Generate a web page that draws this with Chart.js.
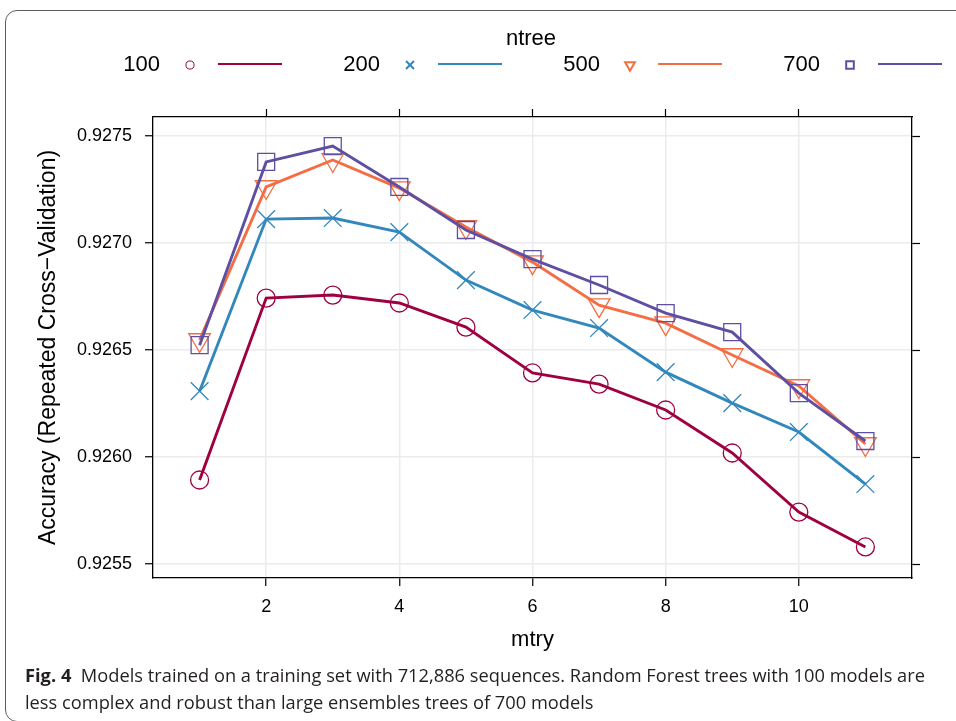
<!DOCTYPE html>
<html>
<head>
<meta charset="utf-8">
<script src="https://cdn.jsdelivr.net/npm/chart.js@4.4.1/dist/chart.umd.min.js"></script>
<style>
  body { margin: 0; background: #fff; }
  #wrap { position: relative; width: 956px; height: 721px; overflow: hidden; }
  #frame { position: absolute; left: 5px; top: 10px; width: 1000px; height: 712px; border: 1.5px solid #5e5e5e; border-radius: 12px; box-sizing: border-box; }
  canvas { position: absolute; left: 0; top: 0; }
  #caption { position: absolute; left: 25px; top: 662px; font-family: "Open Sans"; font-size: 18px; line-height: 27px; color: #231f20; transform-origin: 0 0; white-space: nowrap; }
  #caption span { display: inline-block; }
</style>
</head>
<body>
<div id="wrap">
  <div id="frame"></div>
  <canvas id="chart" width="956" height="721"></canvas>
  <div id="caption"><span id="cap1"><b>Fig. 4</b>&nbsp; Models trained on a training set with 712,886 sequences. Random Forest trees with 100 models are</span><br><span>less complex and robust than large ensembles trees of 700 models</span></div>
</div>
<script>
// data
const mtry = [1, 2, 3, 4, 5, 6, 7, 8, 9, 10, 11];
const ntree = ['100', '200', '500', '700'];
const acc100 = [0.925893, 0.926743, 0.926757, 0.926720, 0.926607, 0.926393, 0.926341, 0.926220, 0.926019, 0.925743, 0.925580];
const acc200 = [0.926308, 0.927112, 0.927117, 0.927051, 0.926827, 0.926687, 0.926603, 0.926397, 0.926252, 0.926117, 0.925874];
const acc500 = [0.926547, 0.927262, 0.927388, 0.927257, 0.927075, 0.926911, 0.926710, 0.926626, 0.926477, 0.926332, 0.926061];
const acc700 = [0.926523, 0.927379, 0.927453, 0.927262, 0.927061, 0.926925, 0.926804, 0.926673, 0.926584, 0.926299, 0.926075];
const xTicks = [2, 4, 6, 8, 10];
const yTicks = [0.9255, 0.9260, 0.9265, 0.9270, 0.9275];

const series = [acc100, acc200, acc500, acc700];
const colors = ['#9E0142', '#3288BD', '#F46D43', '#5E4FA2'];
const marks = [
  { style: 'circle', r: 9, rot: 0 },
  { style: 'crossRot', r: 12.5, rot: 0 },
  { style: 'triangle', r: 12.5, rot: 180 },
  { style: 'rect', r: 12, rot: 0 }
];
const FONT = 'Liberation Sans';

// caption squeezed to the width of the original
const cap1 = document.getElementById('cap1');
document.getElementById('caption').style.transform = 'scaleX(' + (900 / cap1.getBoundingClientRect().width) + ')';

// lattice style key on top: label, symbol, line
const ntreeKey = {
  id: 'ntreeKey',
  afterDraw(chart) {
    const ctx = chart.ctx;
    ctx.save();
    ctx.font = '22px "' + FONT + '"';
    ctx.fillStyle = '#000';
    ctx.textAlign = 'center';
    ctx.textBaseline = 'middle';
    ctx.fillText('ntree', 531, 39);
    chart.data.datasets.forEach((ds, i) => {
      const x0 = 160 + i * 220, y0 = 65;
      ctx.fillStyle = '#000';
      ctx.textAlign = 'right';
      ctx.fillText(ds.label, x0, y0);
      ctx.strokeStyle = ds.borderColor;
      ctx.fillStyle = 'rgba(0,0,0,0)';
      Chart.helpers.drawPoint(ctx, {
        pointStyle: ds.pointStyle,
        radius: ds.pointRadius * 0.45,
        rotation: ds.pointRotation,
        borderWidth: 1.5
      }, x0 + 30, y0);
      ctx.lineWidth = 2;
      ctx.beginPath();
      ctx.moveTo(x0 + 58, y0 - 1);
      ctx.lineTo(x0 + 122, y0 - 1);
      ctx.stroke();
    });
    ctx.restore();
  }
};

const setX = s => { s.ticks = xTicks.map(v => ({ value: v })); };
const setY = s => { s.ticks = yTicks.map(v => ({ value: v })); };
const grid = { color: '#ebebeb', lineWidth: 1.5, tickColor: '#000', tickLength: 8, tickWidth: 1.2 };
const noGrid = { drawOnChartArea: false, tickColor: '#000', tickLength: 8, tickWidth: 1.2 };
const border = { color: '#000', width: 1.3 };

new Chart(document.getElementById('chart'), {
  type: 'line',
  data: {
    datasets: series.map((s, i) => ({
      label: ntree[i],
      data: mtry.map((m, j) => ({ x: m, y: s[j] })),
      borderColor: colors[i],
      backgroundColor: 'rgba(0,0,0,0)',
      borderWidth: 2.9,
      tension: 0,
      pointStyle: marks[i].style,
      pointRadius: marks[i].r,
      pointRotation: marks[i].rot,
      pointBorderColor: colors[i],
      pointBackgroundColor: 'rgba(0,0,0,0)',
      pointBorderWidth: 1.3,
      order: 3 - i
    }))
  },
  options: {
    responsive: false,
    animation: false,
    layout: { padding: 0 },
    plugins: { legend: { display: false }, tooltip: { enabled: false } },
    scales: {
      x: {
        type: 'linear', position: 'bottom', min: 0.3, max: 11.7,
        afterBuildTicks: setX,
        afterFit: s => { s.height = 143; },
        grid: grid, border: border,
        ticks: { font: { family: FONT, size: 18 }, color: '#000', padding: 10, maxRotation: 0, autoSkip: false },
        title: { display: true, text: 'mtry', color: '#000', font: { family: FONT, size: 22 }, padding: { top: 0, bottom: 68 } }
      },
      y: {
        type: 'linear', position: 'left', min: 0.925435, max: 0.927589,
        afterBuildTicks: setY,
        afterFit: s => { s.width = 153; },
        grid: grid, border: border,
        ticks: { font: { family: FONT, size: 18 }, color: '#000', padding: 13, callback: v => v.toFixed(4) },
        title: { display: true, text: 'Accuracy (Repeated Cross\u2212Validation)', color: '#000', font: { family: FONT, size: 23 }, padding: { top: 35, bottom: 0 } }
      },
      x2: {
        type: 'linear', position: 'top', min: 0.3, max: 11.7,
        afterBuildTicks: setX,
        afterFit: s => { s.height = 117; },
        grid: noGrid, border: border,
        ticks: { display: false }
      },
      y2: {
        type: 'linear', position: 'right', min: 0.925435, max: 0.927589,
        afterBuildTicks: setY,
        afterFit: s => { s.width = 44; },
        grid: noGrid, border: border,
        ticks: { display: false }
      }
    }
  },
  plugins: [ntreeKey]
});
</script>
</body>
</html>
